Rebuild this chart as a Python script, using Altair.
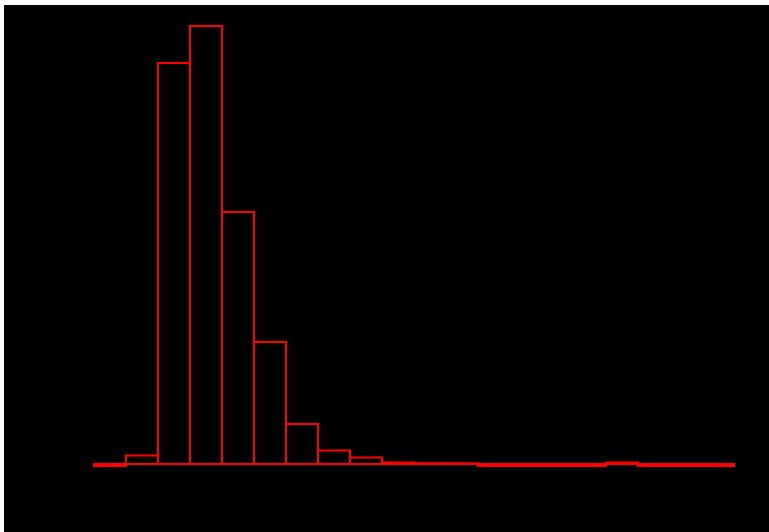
import altair as alt
import pandas as pd

bin_start = list(range(0, 20))
bin_end = list(range(1, 21))
counts = [-2, 8.5, 401, 438, 252, 122, 40, 13.5, 6.5, 1.5, 0.8, 0.8,
          -2, -2, -2, -2, 1.5, -2, -2, -2]

df = pd.DataFrame({"start": bin_start, "end": bin_end, "count": counts})

chart = alt.Chart(df).mark_bar(
    fill="black", stroke="red", strokeWidth=2, orient="vertical"
).encode(
    x=alt.X("start:Q", scale=alt.Scale(domain=[-2.8125, 21.09375], nice=False, zero=False, padding=0), axis=None),
    x2="end:Q",
    y=alt.Y("count:Q", scale=alt.Scale(domain=[-68, 459], nice=False, zero=False, padding=0), axis=None),
    y2=alt.datum(0),
).properties(
    width=765, height=527,
    autosize=alt.AutoSizeParams(type="none"),
    padding={"left": 4, "top": 5, "right": 0, "bottom": 0},
    background="white",
).configure_view(fill="black", stroke=None)

chart.save("out.html", embed_options={"renderer": "svg", "actions": False})
